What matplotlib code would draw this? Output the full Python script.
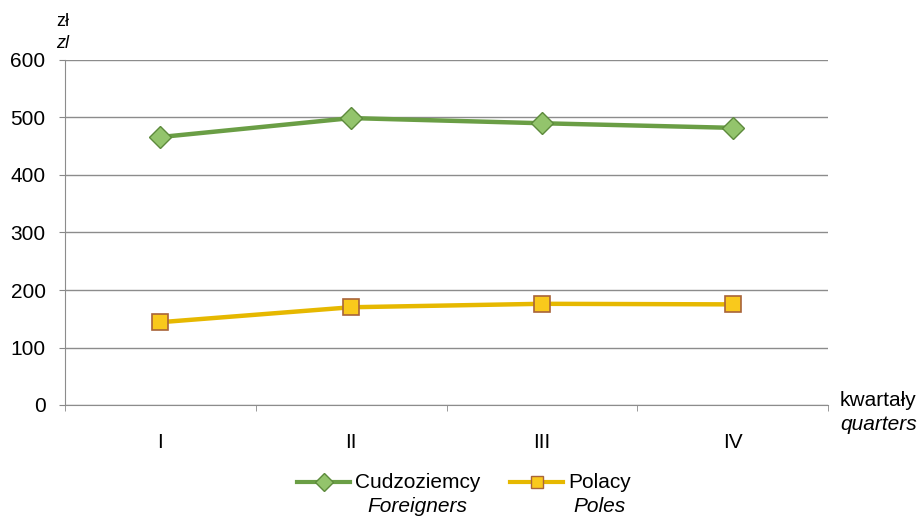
import matplotlib.pyplot as plt
from matplotlib.lines import Line2D

plt.rcParams['font.family'] = ['Liberation Sans', 'DejaVu Sans']

quarters = ['I', 'II', 'III', 'IV']
foreigners = [466, 499, 490, 482]
poles = [144, 170, 176, 175]

green_line = '#6a9e45'
green_face = '#93c46c'
green_edge = '#5d8a3c'
yellow_line = '#e6b800'
yellow_face = '#f9c91c'
yellow_edge = '#a8643a'

W, H = 922, 517
fig = plt.figure(figsize=(W / 100, H / 100), dpi=100)
ax = fig.add_axes([65 / W, 112 / H, 763 / W, 345 / H])

x = range(len(quarters))
ax.plot(x, foreigners, color=green_line, lw=3.2, marker='D', ms=11,
        mfc=green_face, mec=green_edge, mew=1, zorder=3)
ax.plot(x, poles, color=yellow_line, lw=3.2, marker='s', ms=11,
        mfc=yellow_face, mec=yellow_edge, mew=1.2, zorder=3)

ax.set_xlim(-0.5, 3.5)
ax.set_ylim(0, 600)
ax.set_yticks(range(0, 601, 100))
ax.set_xticks(x)
ax.set_xticklabels(quarters)
ax.set_xticks([-0.5, 0.5, 1.5, 2.5, 3.5], minor=True)
ax.tick_params(axis='x', which='major', length=0, labelsize=15, pad=20)
ax.tick_params(axis='x', which='minor', length=4, color='#888888', direction='out')
ax.tick_params(axis='y', length=4, color='#888888', labelsize=15, pad=10)
ax.grid(axis='y', color='#8c8c8c', lw=1)
ax.set_axisbelow(True)
for s in ['top', 'right']:
    ax.spines[s].set_visible(False)
for s in ['left', 'bottom']:
    ax.spines[s].set_color('#8c8c8c')

# axis titles
fig.text(56 / W, 1 - 22 / H, 'zł', fontsize=13, va='center', ha='left')
fig.text(56 / W, 1 - 43 / H, 'zl', fontsize=13, va='center', ha='left', style='italic')
fig.text(840 / W, 1 - 400 / H, 'kwartały', fontsize=15, va='center', ha='left')
fig.text(840 / W, 1 - 425 / H, 'quarters', fontsize=15, va='center', ha='left',
         style='italic')

# legend drawn by hand so the handle sits on the first text line
ly = 1 - 482 / H
ly2 = 1 - 507 / H
entries = [
    (297, 350, 'D', green_line, green_face, green_edge, 'Cudzoziemcy', 'Foreigners'),
    (510, 563, 's', yellow_line, yellow_face, yellow_edge, 'Polacy', 'Poles'),
]
for x0, x1, mk, lc, fc, ec, top, bottom in entries:
    fig.add_artist(Line2D([x0 / W, x1 / W], [ly, ly], color=lc, lw=3,
                          transform=fig.transFigure))
    fig.add_artist(Line2D([(x0 + x1) / 2 / W], [ly], marker=mk, ms=9, mfc=fc,
                          mec=ec, mew=1, transform=fig.transFigure))
    t = fig.text((x1 + 5) / W, ly, top, fontsize=15, va='center', ha='left')
    fig.canvas.draw()
    bb = t.get_window_extent()
    cx = (bb.x0 + bb.x1) / 2 / W
    fig.text(cx, ly2, bottom, fontsize=15, va='center', ha='center', style='italic')

fig.savefig('out.png', dpi=100)
